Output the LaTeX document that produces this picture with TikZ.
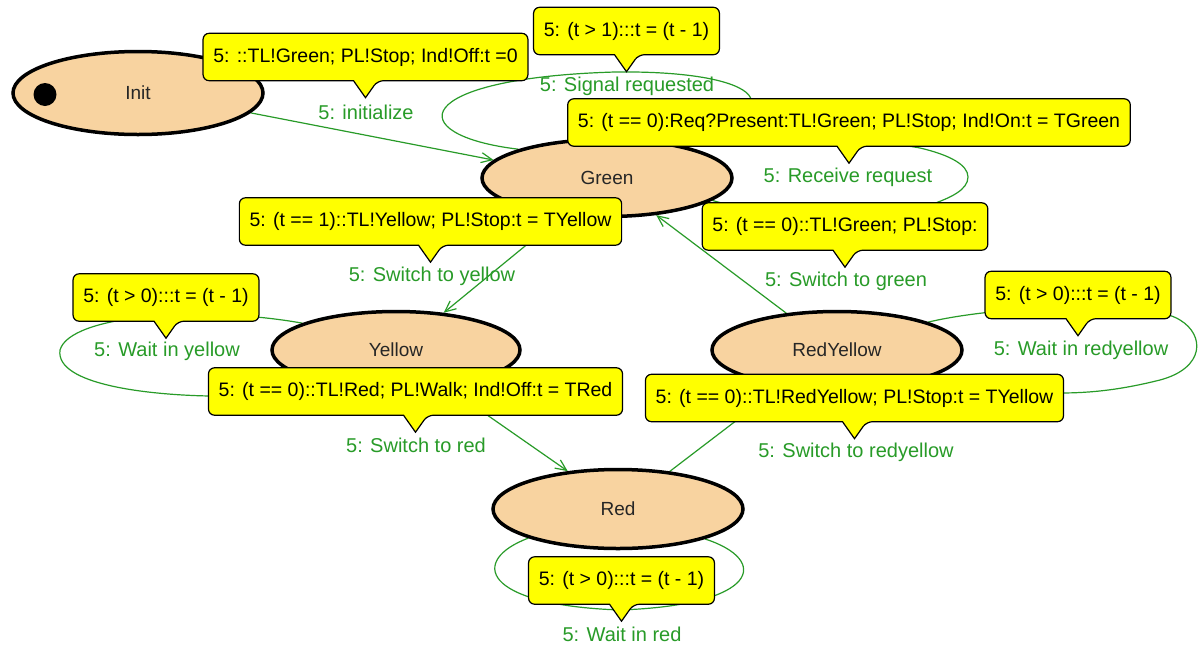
\documentclass[tikz,border=0pt]{standalone}
\usepackage{fontspec}
\setmainfont{Liberation Sans}
\usetikzlibrary{shapes.geometric,arrows.meta}
\definecolor{lgreen}{RGB}{40,155,40}
\definecolor{peach}{RGB}{248,211,160}
\definecolor{boxyellow}{RGB}{255,255,0}
\pgfdeclarelayer{edges}
\pgfdeclarelayer{boxbg}
\pgfdeclarelayer{fg}
\pgfsetlayers{edges,main,boxbg,fg}
\tikzset{
  state/.style={ellipse, draw=black, line width=3.5pt, fill=peach, inner sep=0pt,
    font=\fontsize{19}{19}\selectfont, text=black!85},
  boxtext/.style={font=\fontsize{19.5}{20}\selectfont, inner xsep=10pt, inner ysep=0pt,
    minimum height=47pt, anchor=center},
  boxshape/.style={draw=black, fill=boxyellow, line width=1.2pt},
  lbl/.style={text=lgreen, font=\fontsize{20}{20}\selectfont, inner sep=0pt},
  edge/.style={draw=lgreen, line width=1.2pt, -{Straight Barb[length=11pt,width=10pt]}},
  selfloop/.style={draw=lgreen, line width=1.2pt},
  dotstyle/.style={circle, fill=black, inner sep=0pt, minimum size=23pt}
}
\newcommand\callbox[3]{%
  \begin{pgfonlayer}{fg}\node[boxtext] (#1) at (#2) {#3};\end{pgfonlayer}
  \begin{pgfonlayer}{boxbg}\draw[boxshape] ([xshift=-12pt]#1.south) [rounded corners=6pt] -- (#1.south west) -- (#1.north west) -- (#1.north east) -- (#1.south east) -- ([xshift=12pt]#1.south) [sharp corners] -- ([yshift=-17pt]#1.south) -- cycle;\end{pgfonlayer}}
\begin{document}
\begin{tikzpicture}[x=1pt,y=-1pt]
\begin{pgfonlayer}{edges}
\fill[white] (0,0) rectangle (1203,646);
\end{pgfonlayer}
\useasboundingbox (0,0) rectangle (1203,646);

% states
\node[state, minimum width=250pt, minimum height=83pt] (init) at (138,93) {Init};
\node[dotstyle] (dot) at (45,94.5) {};
\node[state, minimum width=250pt, minimum height=77pt] (green) at (607,178) {Green};
\node[state, minimum width=248pt, minimum height=77pt] (yellow) at (396,350) {Yellow};
\node[state, minimum width=250pt, minimum height=77pt] (redyellow) at (837,350) {RedYellow};
\node[state, minimum width=250pt, minimum height=79pt] (red) at (618,509) {Red};

% connectors
\begin{pgfonlayer}{edges}
\draw[edge] (init.-10) -- (green.171);
\draw[edge] (green.220) -- (yellow.38);
\draw[edge] (yellow.-36) -- (red.143);
\draw[edge] (redyellow.144) -- (green.-37);
\draw[edge] (red.36) -- (redyellow.213);
% self loops
\draw[selfloop] (green.162) .. controls (400,135) and (410,78) .. (615,72) .. controls (780,70) and (800,120) .. (green.42);
\draw[selfloop] (green.31) .. controls (750,135) and (880,140) .. (920,148) .. controls (950,155) and (968,165) .. (968,177) .. controls (968,190) and (950,198) .. (930,205) .. controls (850,222) and (760,215) .. (green.-12);
\draw[selfloop] (yellow.164) .. controls (200,305) and (70,315) .. (60,350) .. controls (55,385) and (150,395) .. (210,396) .. controls (260,397) and (310,392) .. (yellow.-153);
\draw[selfloop] (redyellow.17) .. controls (1000,305) and (1150,300) .. (1180,320) .. controls (1205,335) and (1205,368) .. (1160,380) .. controls (1120,390) and (1090,393) .. (1060,393) .. controls (1000,393) and (930,390) .. (redyellow.-30);
\draw[selfloop] (red.-162) .. controls (470,560) and (480,605) .. (620,610) .. controls (760,605) and (770,560) .. (red.-19);
\end{pgfonlayer}

% guard/action boxes
\callbox{b1}{365.5,57}{5: ::TL!Green; PL!Stop; Ind!Off:t =0}
\callbox{b2}{626.5,31}{5: (t > 1):::t = (t - 1)}
\callbox{b3}{849,122.5}{5: (t == 0):Req?Present:TL!Green; PL!Stop; Ind!On:t = TGreen}
\callbox{b4}{430.5,221.5}{5: (t == 1)::TL!Yellow; PL!Stop:t = TYellow}
\callbox{b5}{845,226.5}{5: (t == 0)::TL!Green; PL!Stop:}
\callbox{b6}{166,297.5}{5: (t > 0):::t = (t - 1)}
\callbox{b7}{1078,295}{5: (t > 0):::t = (t - 1)}
\callbox{b8}{415.5,391.5}{5: (t == 0)::TL!Red; PL!Walk; Ind!Off:t = TRed}
\callbox{b9}{854.5,398}{5: (t == 0)::TL!RedYellow; PL!Stop:t = TYellow}
\callbox{b10}{621.5,580.5}{5: (t > 0):::t = (t - 1)}

% transition labels
\begin{pgfonlayer}{fg}
\node[lbl] (l1) at (366,112) {5: initialize};
\node[lbl] (l2) at (627,86) {5: Signal requested};
\node[lbl] (l3) at (848,177) {5: Receive request};
\node[lbl] (l4) at (432,276) {5: Switch to yellow};
\node[lbl] (l5) at (846,281) {5: Switch to green};
\node[lbl] (l6) at (167,351) {5: Wait in yellow};
\node[lbl] (l7) at (1081,350) {5: Wait in redyellow};
\node[lbl] (l8) at (416,445) {5: Switch to red};
\node[lbl] (l9) at (856,452) {5: Switch to redyellow};
\node[lbl] (l10) at (622,634) {5: Wait in red};
\end{pgfonlayer}
\end{tikzpicture}
\end{document}
